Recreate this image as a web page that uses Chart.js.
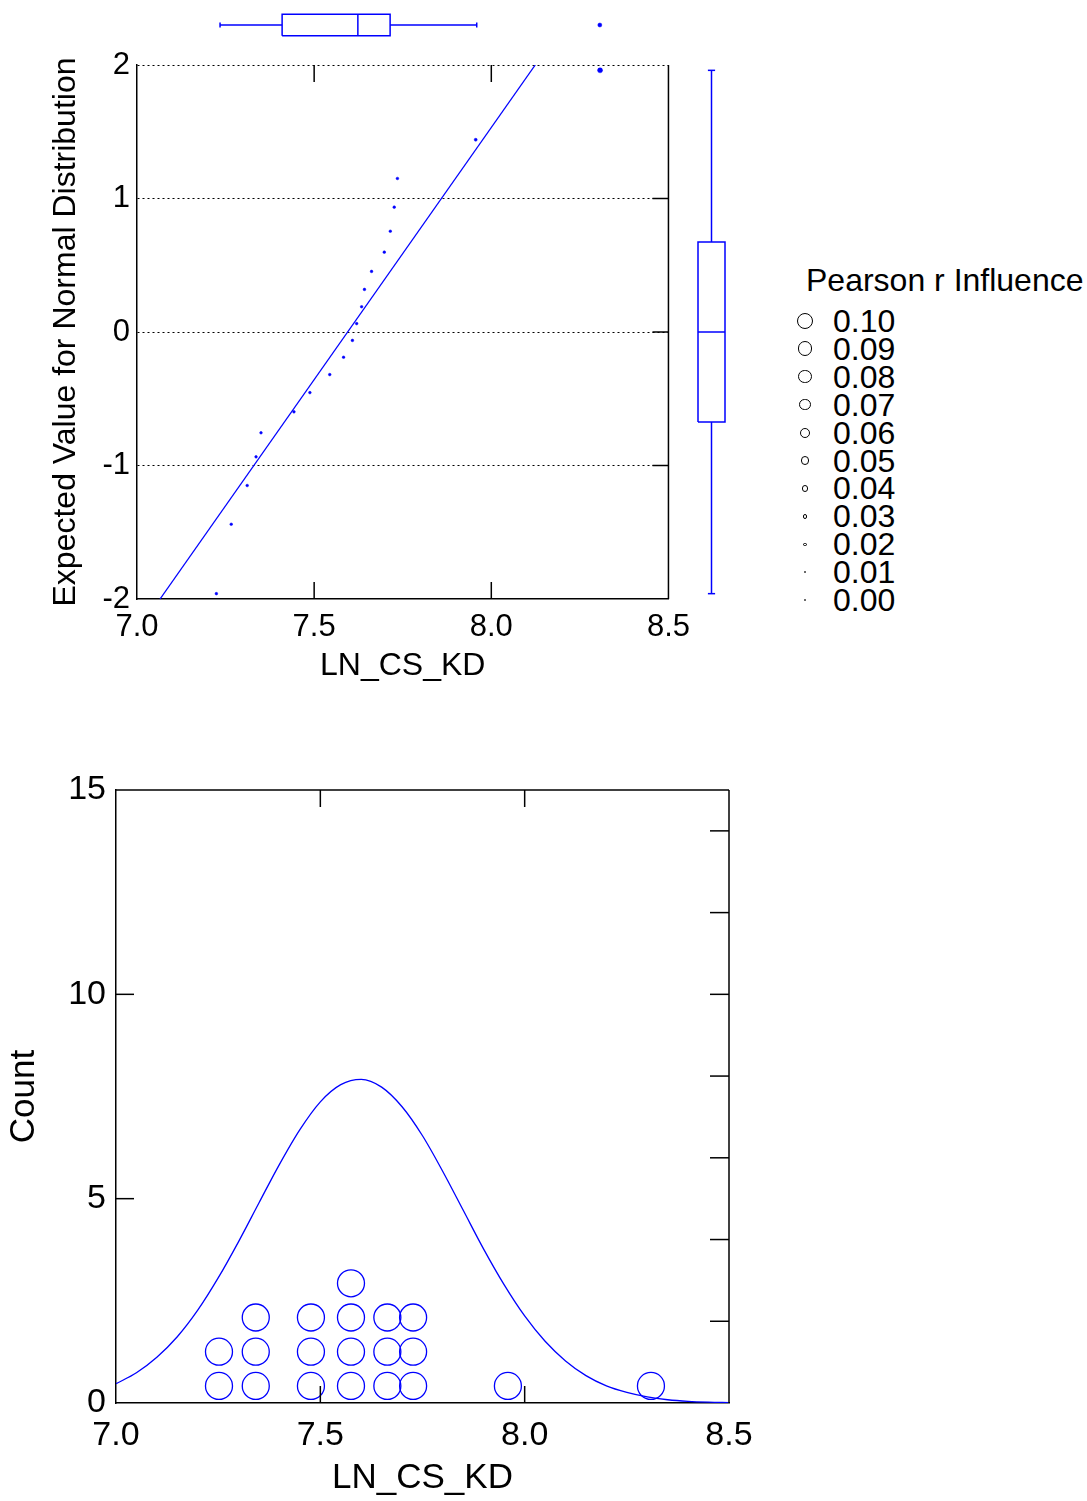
<!DOCTYPE html>
<html>
<head>
<meta charset="utf-8">
<title>LN_CS_KD normal probability plot</title>
<script src="https://cdn.jsdelivr.net/npm/chart.js@4.4.0/dist/chart.umd.min.js"></script>
<style>
  body { margin: 0; background: #fff; width: 1087px; height: 1501px; position: relative; overflow: hidden;
         font-family: "Liberation Sans", Arial, sans-serif; color: #000; }
  canvas { position: absolute; }
  .lg { position: absolute; white-space: nowrap; font-size: 32px; line-height: 32px; }
  .lgDot { position: absolute; border: 1px solid #000; border-radius: 50%; box-sizing: border-box; }
</style>
</head>
<body>
<canvas id="qqChart" style="left:0;top:0" width="700" height="700"></canvas>
<canvas id="topBox" style="left:137px;top:0" width="535" height="50"></canvas>
<canvas id="rightBox" style="left:689px;top:65px" width="45" height="534"></canvas>
<div id="legend"></div>
<canvas id="histChart" style="left:0;top:700px" width="800" height="801"></canvas>

<script>
// Observed values (sorted) and their expected normal scores
const lnCsKd = [7.224, 7.266, 7.311, 7.336, 7.350, 7.443, 7.488, 7.544, 7.583, 7.608,
                7.620, 7.634, 7.642, 7.662, 7.698, 7.715, 7.726, 7.735, 7.956, 8.307];
const expectedZ = [-1.960, -1.440, -1.150, -0.935, -0.755, -0.598, -0.454, -0.319, -0.189, -0.063,
                   0.063, 0.189, 0.319, 0.454, 0.598, 0.755, 0.935, 1.150, 1.440, 1.960];
const influence = [0.016, 0.016, 0.016, 0.016, 0.016, 0.016, 0.016, 0.016, 0.016, 0.016,
                   0.016, 0.016, 0.016, 0.016, 0.016, 0.016, 0.016, 0.016, 0.018, 0.030];

// Fitted line (ends)
const fitX = [7.065, 8.124];
const fitZ = [-2, 2];

// Box plot summaries: [min, q1, median, q3, max]
const xBoxStats = [7.224, 7.401, 7.617, 7.709, 7.956];
const xBoxOutliers = [8.307];
const zBoxStats = [-1.960, -0.674, 0, 0.674, 1.960];

// Legend
const legendTitle = 'Pearson r Influence';
const legendValues = [0.10, 0.09, 0.08, 0.07, 0.06, 0.05, 0.04, 0.03, 0.02, 0.01, 0.00];

// Dot histogram columns and counts
const dotX = [7.252, 7.342, 7.477, 7.575, 7.664, 7.727, 7.959, 8.309];
const dotCount = [2, 3, 3, 4, 3, 3, 1, 1];

// Normal curve
const curveX = [7.00, 7.05, 7.10, 7.15, 7.20, 7.25, 7.30, 7.35, 7.40, 7.45, 7.50, 7.55, 7.60, 7.65, 7.70, 7.75,
                7.80, 7.85, 7.90, 7.95, 8.00, 8.05, 8.10, 8.15, 8.20, 8.25, 8.30, 8.35, 8.40, 8.45, 8.50];
const curveY = [0.47, 0.74, 1.12, 1.62, 2.27, 3.06, 3.95, 4.90, 5.84, 6.69, 7.37, 7.79, 7.92, 7.73, 7.25, 6.54,
                5.66, 4.71, 3.76, 2.89, 2.13, 1.51, 1.03, 0.67, 0.42, 0.26, 0.15, 0.08, 0.04, 0.02, 0.01];

// Axis ticks
const xTicks = [7.0, 7.5, 8.0, 8.5];
const xTickLabels = ['7.0', '7.5', '8.0', '8.5'];
const zTicks = [-2, -1, 0, 1, 2];
const zTickLabels = ['-2', '-1', '0', '1', '2'];
const countTicks = [0, 5, 10, 15];
const countTickLabels = ['0', '5', '10', '15'];
const countMinorTicks = [2, 4, 6, 8, 10, 12, 14];

const BLUE = '#0000ff';
const FONT = '"Liberation Sans", Arial, sans-serif';
const dotStep = 0.837;   // vertical spacing of stacked dots, in counts
const radiusFor = v => Math.max(1, 83 * v);

// tick marks drawn inward, plus the missing frame sides
const insideTicks = {
    id: 'insideTicks',
    afterDraw(chart, args, opts) {
        const { ctx, chartArea: a, scales } = chart;
        ctx.save();
        ctx.strokeStyle = '#000';
        ctx.lineWidth = 1.5;
        (opts.frame || []).forEach(side => {
            ctx.beginPath();
            if (side === 'top') { ctx.moveTo(a.left, a.top); ctx.lineTo(a.right, a.top); }
            if (side === 'right') { ctx.moveTo(a.right, a.top); ctx.lineTo(a.right, a.bottom); }
            ctx.stroke();
        });
        (opts.marks || []).forEach(m => {
            const s = scales[m.axis];
            m.values.forEach(v => {
                const p = s.getPixelForValue(v);
                m.sides.forEach(side => {
                    ctx.beginPath();
                    if (side === 'top') { ctx.moveTo(p, a.top); ctx.lineTo(p, a.top + m.len); }
                    if (side === 'bottom') { ctx.moveTo(p, a.bottom); ctx.lineTo(p, a.bottom - m.len); }
                    if (side === 'left') { ctx.moveTo(a.left, p); ctx.lineTo(a.left + m.len, p); }
                    if (side === 'right') { ctx.moveTo(a.right, p); ctx.lineTo(a.right - m.len, p); }
                    ctx.stroke();
                });
            });
        });
        ctx.restore();
    }
};

// line datasets for a box plot; 'h' = horizontal along x, 'v' = vertical along y
function boxDatasets(dir, stats, outliers, half, cap) {
    const [mn, q1, md, q3, mx] = stats;
    const pt = (v, o) => dir === 'h' ? { x: v, y: o } : { x: o, y: v };
    const seg = pts => ({ data: pts, showLine: true, borderColor: BLUE, borderWidth: 1.5, pointRadius: 0, fill: false });
    const sets = [
        seg([pt(q1, -half), pt(q3, -half), pt(q3, half), pt(q1, half), pt(q1, -half)]),
        seg([pt(md, -half), pt(md, half)]),
        seg([pt(mn, 0), pt(q1, 0)]),
        seg([pt(q3, 0), pt(mx, 0)]),
        seg([pt(mn, -cap), pt(mn, cap)]),
        seg([pt(mx, -cap), pt(mx, cap)])
    ];
    if (outliers.length) {
        sets.push({ data: outliers.map(v => pt(v, 0)), pointRadius: 2, backgroundColor: BLUE, borderColor: BLUE, borderWidth: 0.5 });
    }
    return sets;
}

function hiddenScales(xMin, xMax, yMin, yMax) {
    return {
        x: { type: 'linear', min: xMin, max: xMax, display: false },
        y: { type: 'linear', min: yMin, max: yMax, display: false }
    };
}

// Normal probability plot
new Chart(document.getElementById('qqChart'), {
    type: 'scatter',
    data: {
        datasets: [
            {
                type: 'line',
                data: fitX.map((x, i) => ({ x: x, y: fitZ[i] })),
                borderColor: BLUE, borderWidth: 1.3, pointRadius: 0, fill: false
            },
            {
                data: lnCsKd.map((x, i) => ({ x: x, y: expectedZ[i] })),
                pointRadius: influence.map(radiusFor),
                backgroundColor: BLUE, borderColor: BLUE, borderWidth: 0.5
            }
        ]
    },
    options: {
        responsive: false, animation: false, events: [],
        layout: { padding: { left: 0, top: 65, right: 28, bottom: 15 } },
        plugins: {
            legend: { display: false }, tooltip: { enabled: false },
            insideTicks: {
                frame: ['right'],
                marks: [
                    { axis: 'x', values: [7.5, 8.0], sides: ['top', 'bottom'], len: 17 },
                    { axis: 'y', values: [-1, 0, 1], sides: ['right'], len: 16 }
                ]
            }
        },
        scales: {
            x: {
                type: 'linear', min: 7, max: 8.5,
                afterBuildTicks: s => { s.ticks = xTicks.map(v => ({ value: v })); },
                afterFit: s => { s.height = 86; },
                grid: { display: false, drawTicks: false },
                border: { color: '#000', width: 1.5 },
                ticks: { color: '#000', padding: 10, font: { family: FONT, size: 31 }, maxRotation: 0,
                         callback: (v, i) => xTickLabels[i] },
                title: { display: true, text: 'LN_CS_KD', color: '#000', font: { family: FONT, size: 32 }, padding: { top: 0, bottom: 0 } }
            },
            y: {
                type: 'linear', min: -2, max: 2,
                afterBuildTicks: s => { s.ticks = zTicks.map(v => ({ value: v })); },
                afterFit: s => { s.width = 137; },
                grid: { color: c => (c.tick && c.tick.value === -2) ? 'rgba(0,0,0,0)' : '#000', lineWidth: 1, drawTicks: false },
                border: { color: '#000', width: 1.5, dash: [2, 3] },
                ticks: { color: '#000', padding: 7, font: { family: FONT, size: 31 },
                         callback: (v, i) => zTickLabels[i] },
                title: { display: true, text: 'Expected Value for Normal Distribution', color: '#000',
                         font: { family: FONT, size: 32 }, padding: { top: 47, bottom: 0 } }
            }
        }
    },
    plugins: [insideTicks]
});

// Box plot of LN_CS_KD above the plot
new Chart(document.getElementById('topBox'), {
    type: 'scatter',
    data: { datasets: boxDatasets('h', xBoxStats, xBoxOutliers, 0.53, 0.12) },
    options: {
        responsive: false, animation: false, events: [],
        layout: { padding: 0 },
        plugins: { legend: { display: false }, tooltip: { enabled: false } },
        scales: hiddenScales(7, 8.5, -1, 1)
    }
});

// Box plot of expected values on the right
new Chart(document.getElementById('rightBox'), {
    type: 'scatter',
    data: { datasets: boxDatasets('v', zBoxStats, [], 0.6, 0.16) },
    options: {
        responsive: false, animation: false, events: [],
        layout: { padding: 0 },
        plugins: { legend: { display: false }, tooltip: { enabled: false } },
        scales: hiddenScales(-1, 1, -2, 2)
    }
});

// Influence legend
const legendEl = document.getElementById('legend');
const titleEl = document.createElement('div');
titleEl.className = 'lg';
titleEl.style.left = '806px';
titleEl.style.top = '264px';
titleEl.textContent = legendTitle;
legendEl.appendChild(titleEl);
legendValues.forEach((v, i) => {
    const cy = 321 + 27.9 * i;
    const r = radiusFor(v);
    const dot = document.createElement('div');
    dot.className = 'lgDot';
    dot.style.left = (805 - r) + 'px';
    dot.style.top = (cy - r) + 'px';
    dot.style.width = (2 * r) + 'px';
    dot.style.height = (2 * r) + 'px';
    legendEl.appendChild(dot);
    const label = document.createElement('div');
    label.className = 'lg';
    label.style.left = '833px';
    label.style.top = (cy - 16) + 'px';
    label.textContent = v.toFixed(2);
    legendEl.appendChild(label);
});

// Dot histogram with normal curve
const dots = [];
dotX.forEach((x, i) => {
    for (let k = 0; k < dotCount[i]; k++) {
        dots.push({ x: x, y: (k + 0.5) * dotStep });
    }
});

new Chart(document.getElementById('histChart'), {
    type: 'scatter',
    data: {
        datasets: [
            {
                type: 'line',
                data: curveX.map((x, i) => ({ x: x, y: curveY[i] })),
                borderColor: BLUE, borderWidth: 1.3, pointRadius: 0, fill: false,
                cubicInterpolationMode: 'monotone'
            },
            {
                data: dots,
                pointRadius: 13.5,
                backgroundColor: 'rgba(0,0,0,0)', borderColor: BLUE, borderWidth: 1.3
            }
        ]
    },
    options: {
        responsive: false, animation: false, events: [],
        layout: { padding: { left: 0, top: 90, right: 71, bottom: 2 } },
        plugins: {
            legend: { display: false }, tooltip: { enabled: false },
            insideTicks: {
                frame: ['top', 'right'],
                marks: [
                    { axis: 'x', values: [7.5, 8.0], sides: ['top', 'bottom'], len: 17 },
                    { axis: 'y', values: [5, 10], sides: ['left'], len: 18 },
                    { axis: 'y', values: countMinorTicks, sides: ['right'], len: 19 }
                ]
            }
        },
        scales: {
            x: {
                type: 'linear', min: 7, max: 8.5,
                afterBuildTicks: s => { s.ticks = xTicks.map(v => ({ value: v })); },
                afterFit: s => { s.height = 96; },
                grid: { display: false, drawTicks: false },
                border: { color: '#000', width: 1.5 },
                ticks: { color: '#000', padding: 12, font: { family: FONT, size: 34 }, maxRotation: 0,
                         callback: (v, i) => xTickLabels[i] },
                title: { display: true, text: 'LN_CS_KD', color: '#000', font: { family: FONT, size: 35 }, padding: { top: 0, bottom: 0 } }
            },
            y: {
                type: 'linear', min: 0, max: 15,
                afterBuildTicks: s => { s.ticks = countTicks.map(v => ({ value: v })); },
                afterFit: s => { s.width = 116; },
                grid: { display: false, drawTicks: false },
                border: { color: '#000', width: 1.5 },
                ticks: { color: '#000', padding: 10, font: { family: FONT, size: 34 },
                         callback: (v, i) => countTickLabels[i] },
                title: { display: true, text: 'Count', color: '#000', font: { family: FONT, size: 35 }, padding: { top: 3, bottom: 0 } }
            }
        }
    },
    plugins: [insideTicks]
});
</script>
</body>
</html>
